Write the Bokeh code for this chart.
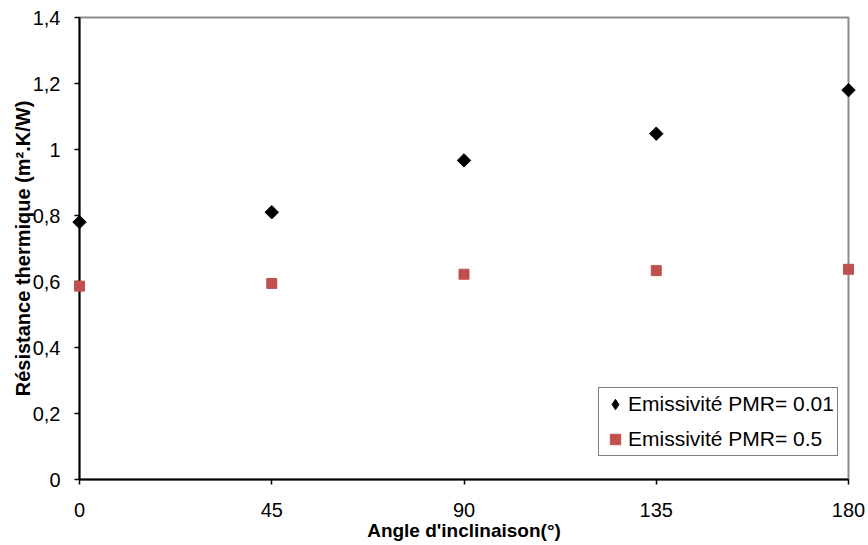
import math
from bokeh.plotting import figure
from bokeh.models import FixedTicker, Range1d, Legend, LegendItem
from bokeh.embed import file_html
from bokeh.resources import INLINE

angles = [0, 45, 90, 135, 180]
r_emis_001 = [0.78, 0.81, 0.967, 1.048, 1.18]
r_emis_05 = [0.586, 0.594, 0.622, 0.633, 0.637]
x_ticks = [0, 45, 90, 135, 180]
y_ticks = [0, 0.2, 0.4, 0.6, 0.8, 1.0, 1.2, 1.4]
y_tick_labels = ["0", "0,2", "0,4", "0,6", "0,8", "1", "1,2", "1,4"]
series_labels = ["Emissivité PMR= 0.01", "Emissivité PMR= 0.5"]

FONT = "Liberation Sans"
RED = "#C0504D"

p = figure(width=868, height=545, output_backend="svg", toolbar_location=None,
           x_range=Range1d(0, 180), y_range=Range1d(0, 1.4),
           min_border_left=79, min_border_right=20, min_border_top=17, min_border_bottom=66)
p.grid.visible = False
p.outline_line_color = "#8c8c8c"
p.outline_line_width = 2
p.background_fill_color = "white"
p.border_fill_color = "white"

p.xaxis.ticker = FixedTicker(ticks=x_ticks)
p.yaxis.ticker = FixedTicker(ticks=y_ticks)
p.yaxis.major_label_overrides = {t: l for t, l in zip(y_ticks, y_tick_labels)}

for ax in (p.xaxis, p.yaxis):
    ax.axis_line_color = "black"
    ax.axis_line_width = 2
    ax.major_tick_line_color = "black"
    ax.major_tick_line_width = 1.5
    ax.major_tick_out = 5
    ax.major_tick_in = 0
    ax.minor_tick_line_color = None
    ax.major_label_text_font = FONT
    ax.major_label_text_font_size = "20px"
    ax.major_label_text_color = "black"
    ax.axis_label_text_font = FONT
    ax.axis_label_text_font_size = "19px"
    ax.axis_label_text_font_style = "bold"
    ax.axis_label_text_color = "black"

p.yaxis.axis_label_text_font_size = "20px"
p.xaxis.axis_label = "Angle d'inclinaison(°)"
p.yaxis.axis_label = "Résistance thermique (m².K/W)"
p.xaxis.major_label_standoff = 18
p.xaxis.axis_label_standoff = 0
p.yaxis.major_label_standoff = 14
p.yaxis.axis_label_standoff = -4

p.scatter(angles, r_emis_001, marker="square", size=9.5, angle=math.pi / 4,
          color="black", level="overlay")
p.scatter(angles, r_emis_05, marker="square", size=10, color=RED, level="overlay")

# legend-only renderers (no drawable points); they provide the legend glyphs
nan = float("nan")
leg1 = p.scatter([nan], [nan], marker="diamond", color="black")
leg2 = p.scatter([nan], [nan], marker="square", color=RED)

legend = Legend(items=[LegendItem(label=series_labels[0], renderers=[leg1]),
                       LegendItem(label=series_labels[1], renderers=[leg2])],
                location=(519, 23), border_line_color="black", border_line_width=1,
                label_text_font=FONT, label_text_font_size="21px",
                label_text_color="black",
                glyph_width=26, glyph_height=26, label_standoff=0,
                padding=3, spacing=9, margin=0, background_fill_alpha=1)
p.add_layout(legend, "center")

open("out.html", "w").write(file_html(p, INLINE))
